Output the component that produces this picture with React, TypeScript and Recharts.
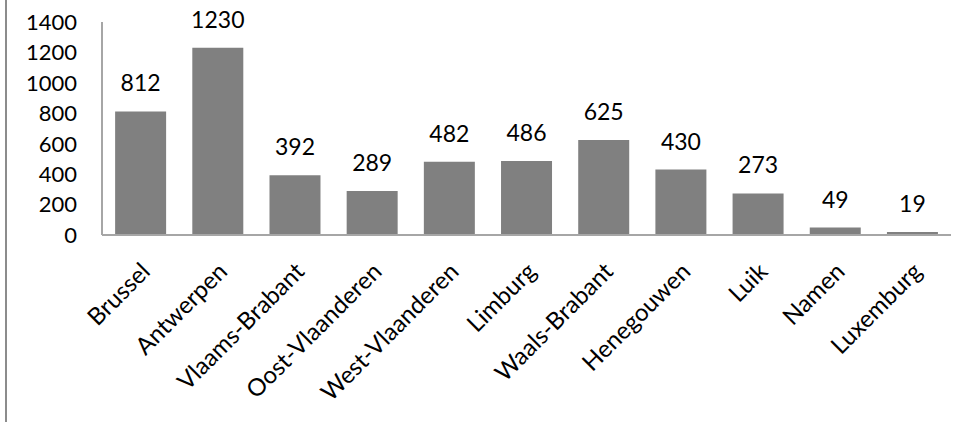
import { Bar, BarChart, LabelList, XAxis, YAxis } from "recharts";

const provinces = [
  "Brussel",
  "Antwerpen",
  "Vlaams-Brabant",
  "Oost-Vlaanderen",
  "West-Vlaanderen",
  "Limburg",
  "Waals-Brabant",
  "Henegouwen",
  "Luik",
  "Namen",
  "Luxemburg",
];
const counts = [812, 1230, 392, 289, 482, 486, 625, 430, 273, 49, 19];
const yTicks = [0, 200, 400, 600, 800, 1000, 1200, 1400];

const data = provinces.map((name, i) => ({ name, value: counts[i] }));

const FONT = "Lato, 'Open Sans', sans-serif";

function SlantTick({ x, y, payload }: any) {
  const ax = x + 11;
  const ay = y + 36;
  return (
    <text
      x={ax}
      y={ay}
      transform={`rotate(-45, ${ax}, ${ay})`}
      textAnchor="end"
      fontSize={24}
      fontFamily={FONT}
      fill="#000"
    >
      {payload.value}
    </text>
  );
}

export default function App() {
  return (
    <div style={{ position: "absolute", left: 0, top: 0, width: 965, height: 422, background: "#fff" }}>
      <div
        style={{
          position: "absolute",
          left: 5,
          top: 0,
          width: 2,
          height: 422,
          background: "#8c8c8c",
        }}
      />
      <BarChart
        width={965}
        height={422}
        data={data}
        margin={{ top: 22, right: 14, bottom: 0, left: 0 }}
        barCategoryGap="17%"
      >
        <XAxis
          dataKey="name"
          interval={0}
          height={187}
          tickLine={false}
          tickSize={0}
          axisLine={{ stroke: "#a6a6a6", strokeWidth: 2 }}
          tick={<SlantTick />}
        />
        <YAxis
          width={102}
          domain={[0, 1400]}
          ticks={yTicks}
          interval={0}
          tickLine={false}
          tickSize={0}
          tickMargin={25}
          axisLine={{ stroke: "#a6a6a6", strokeWidth: 2 }}
          tick={{ fontSize: 22, fontFamily: FONT, fill: "#000" }}
        />
        <Bar dataKey="value" fill="#808080" isAnimationActive={false}>
          <LabelList
            dataKey="value"
            position="top"
            offset={20}
            fontSize={23}
            fontFamily={FONT}
            fill="#000"
          />
        </Bar>
      </BarChart>
    </div>
  );
}
